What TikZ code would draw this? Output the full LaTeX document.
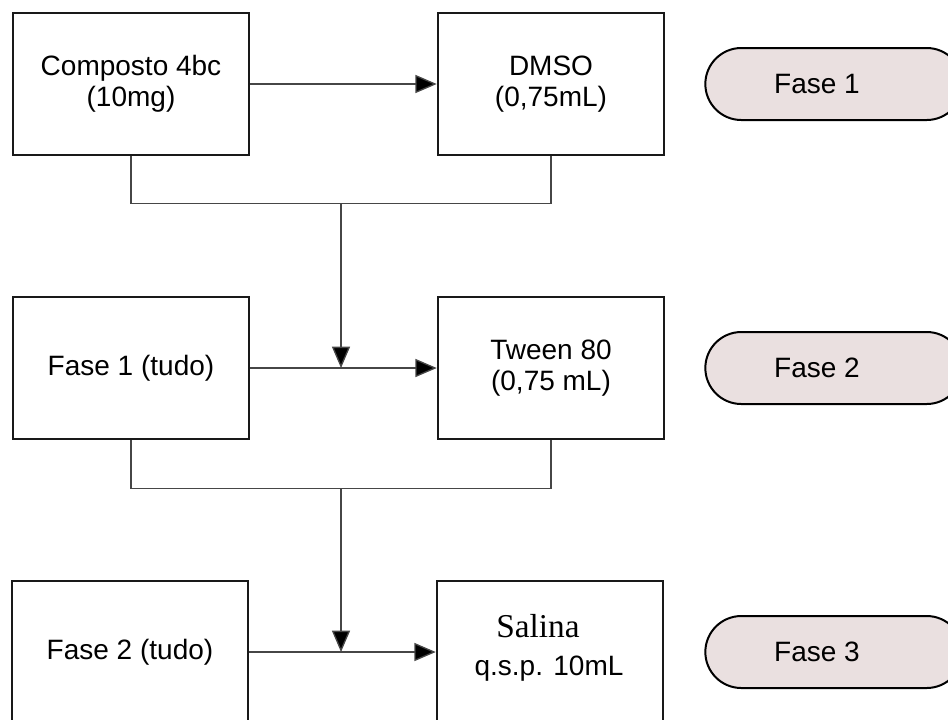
\documentclass[tikz,border=0pt]{standalone}
\usepackage{fontspec}
\setmainfont{Liberation Sans}
\newfontfamily\serifface{Liberation Serif}
\usetikzlibrary{arrows.meta,shapes.misc,calc}
\definecolor{pillfill}{RGB}{234,224,224}
\definecolor{linegray}{RGB}{70,70,70}
\begin{document}
\begin{tikzpicture}[x=0.75pt,y=-0.75pt,
  every node/.style={font=\fontsize{21}{23.5}\selectfont, align=center},
  stepbox/.style={draw=black!90, line width=1.9pt, fill=white, minimum height=106.5pt, inner sep=0pt},
  widebox/.style={stepbox, minimum width=177pt},
  narrowbox/.style={stepbox, minimum width=169.5pt},
  pill/.style={draw=black, line width=1.5pt, fill=pillfill, rounded rectangle, minimum width=193pt, minimum height=54pt, inner sep=0pt},
  conn/.style={draw=linegray, line width=1pt},
  arr/.style={conn, -{Triangle[length=16pt,width=13.5pt,fill=black]}}
]
\clip (0,0) rectangle (948,719);
% row 1
\node[widebox] (b1) at (131,84) {Composto 4bc\\(10mg)};
\node[narrowbox] (b2) at (551,84) {DMSO\\(0,75mL)};
\node[pill] (p1) at (834,84) {};
\node (t1) at (817,84) {Fase 1};
% row 2
\node[widebox] (b3) at (131,368) {Fase 1 (tudo)};
\node[narrowbox] (b4) at (551,368) {Tween 80\\(0,75 mL)};
\node[pill] (p2) at (834,368) {};
\node (t2) at (817,368) {Fase 2};
% row 3
\node[widebox] (b5) at (130,652) {Fase 2 (tudo)};
\node[narrowbox] (b6) at (550,652) {};
\node (s1) at (538,626) {\fontsize{25}{26}\selectfont\serifface Salina};
\node (s2) at (549,669) {q.s.p. 10mL};
\node[pill] (p3) at (834,652) {};
\node (t3) at (817,652) {Fase 3};
% connectors
\draw[arr] (b1.east) -- (b2.west);
\draw[conn] (b1.south) -- ++(0,47) coordinate (c1) -| (b2.south);
\coordinate (j1) at ($(c1)!0.5!(c1 -| b2.south)$);
\draw[arr] (b3.east) -- (b4.west);
\draw[conn] (b3.south) -- ++(0,48) coordinate (c2) -| (b4.south);
\coordinate (j2) at ($(c2)!0.5!(c2 -| b4.south)$);
\draw[arr] (b5.east) -- (b6.west);
\draw[arr] (j1) -- (j1 |- b3.east);
\draw[arr] (j2) -- (j2 |- b5.east);
\end{tikzpicture}
\end{document}
